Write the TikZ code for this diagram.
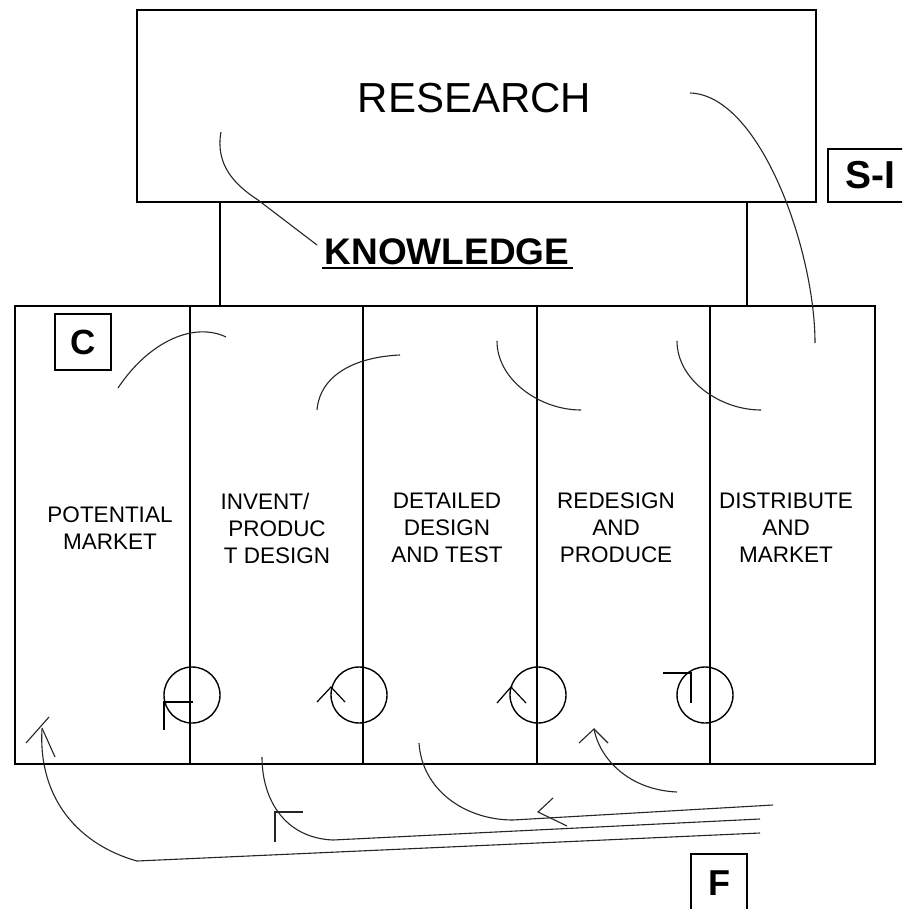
\documentclass[tikz,border=0pt]{standalone}
\usepackage{fontspec}
\setmainfont{Liberation Sans}
\begin{document}
\begin{tikzpicture}[x=1pt,y=-1pt,
  boxline/.style={draw=black,line width=1.4pt},
  column/.style={boxline,rectangle,minimum height=458pt,inner sep=0pt},
  tagbox/.style={boxline,rectangle,inner sep=0pt,font=\bfseries\fontsize{36}{40}\selectfont},
  coltext/.style={align=center,inner sep=0pt,font=\fontsize{22.5}{27}\selectfont},
  stroke/.style={draw=black!85,line width=1.1pt},
  loop/.style={boxline,circle,minimum size=56pt,inner sep=0pt}]
\clip (0,0) rectangle (902,909);
\fill[white] (0,0) rectangle (902,909);
% research box
\node[boxline,rectangle,minimum width=679pt,minimum height=192pt,inner sep=0pt] (research) at (476.5,106) {};
\node[anchor=base,inner sep=0pt,font=\fontsize{42}{46}\selectfont] (restext) at (474.5,113) {RESEARCH};
\node[tagbox,minimum width=84pt,minimum height=53pt,font=\bfseries\fontsize{39}{42}\selectfont] (si) at (870,175.5) {S-I};
% columns
\node[column,minimum width=175pt] (col1) at (102.5,535) {};
\node[column,minimum width=173pt] (col2) at (276.5,535) {};
\node[column,minimum width=174pt] (col3) at (450,535) {};
\node[column,minimum width=173pt] (col4) at (623.5,535) {};
\node[column,minimum width=165pt] (col5) at (792.5,535) {};
% links research - columns
\coordinate (k1) at (220,306);
\coordinate (k2) at (747,306);
\draw[boxline] (k1 |- research.south) -- (k1);
\draw[boxline] (k2 |- research.south) -- (k2);
% knowledge
\node[anchor=base,inner sep=0pt,font=\bfseries\fontsize{37}{40}\selectfont] (know) at (447,264) {KNOWLEDGE};
\coordinate (ul1) at (322,268);
\coordinate (ul2) at (573,268);
\draw[line width=2pt] (ul1) -- (ul2);
% tags
\node[tagbox,minimum width=56pt,minimum height=56pt,font=\bfseries\fontsize{35}{38}\selectfont] (cbox) at (83,342) {C};
\node[tagbox,minimum width=56pt,minimum height=58pt] (fbox) at (719,883) {F};
% column texts
\node[coltext] (t1) at (110,528) {POTENTIAL\\MARKET};
\node[coltext] (t2) at (277,528) {INVENT/\hspace*{24pt}\\PRODUC\\T DESIGN};
\node[coltext] (t3) at (447,528) {DETAILED\\DESIGN\\AND TEST};
\node[coltext] (t4) at (616,528) {REDESIGN\\AND\\PRODUCE};
\node[coltext] (t5) at (786,528) {DISTRIBUTE\\AND\\MARKET};
% loops
\node[loop] (l1) at (192,695) {};
\node[loop] (l2) at (359,695) {};
\node[loop] (l3) at (538,695) {};
\node[loop] (l4) at (705,695) {};
\draw[boxline] (193,702) -- (164,702) -- (164,730);
\draw[boxline,line width=1.2pt] (317,702) -- (331,687) -- (345,702);
\draw[boxline,line width=1.2pt] (497,703) -- (511,687) -- (526,703);
\draw[boxline] (663,673) -- (691,673) -- (691,703);
% top arcs
\draw[stroke] (118,388) .. controls (150,340) and (195,322) .. (226,337);
\draw[stroke] (317,410) .. controls (320,375) and (355,357) .. (400,355);
\draw[stroke] (497,341) .. controls (497,380) and (540,410) .. (581,410);
\draw[stroke] (677,341) .. controls (677,380) and (720,410) .. (761,410);
% research curves
\draw[stroke] (690,93) .. controls (760,95) and (815,250) .. (815,343);
\draw[stroke] (221,132) .. controls (215,165) and (235,185) .. (258,200) -- (317,245);
% bottom flows
\draw[stroke] (677,792) .. controls (630,790) and (600,760) .. (594,729);
\draw[stroke] (579,743) -- (594,729) -- (608,743);
\draw[stroke] (419,743) .. controls (422,790) and (465,820) .. (513,820) -- (773,805);
\draw[stroke] (553,798) -- (538,812) -- (567,826);
\draw[stroke] (262,757) .. controls (262,800) and (285,838) .. (333,840) -- (760,819);
\draw[stroke,line width=1.3pt] (275,842) -- (275,812) -- (303,812);
\draw[stroke] (42,729) .. controls (38,800) and (80,845) .. (137,861) -- (760,833);
\draw[stroke] (26,743) -- (49,717);
\draw[stroke] (42,728) -- (55,757);
\end{tikzpicture}
\end{document}
